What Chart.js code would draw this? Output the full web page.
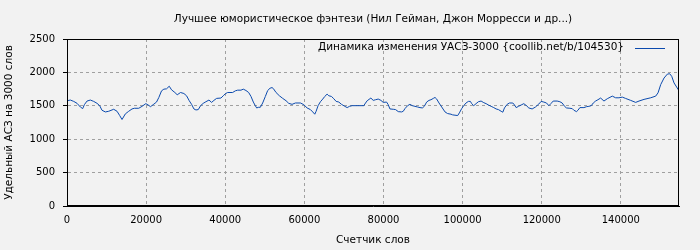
<!DOCTYPE html>
<html>
<head>
<meta charset="utf-8">
<script src="https://cdn.jsdelivr.net/npm/chart.js@4"></script>
<style>
  html, body { margin: 0; padding: 0; background: #f2f2f2; }
  canvas { display: block; }
</style>
</head>
<body>
<canvas id="myChart" width="700" height="250"></canvas>
<script>
var chartTitle = 'Лучшее юмористическое фэнтези (Нил Гейман, Джон Морресси и др...)';
var seriesLabel = 'Динамика изменения УАСЗ-3000 {coollib.net/b/104530}';

// tick labels
var xTicks = [0, 20000, 40000, 60000, 80000, 100000, 120000, 140000];
var yTicks = [0, 500, 1000, 1500, 2000, 2500];

// word counter (x)
var wordCount = [
    0, 850, 1700, 2540, 3380, 3970, 4390, 5060, 5900, 6750,
    7590, 8260, 8850, 9700, 10540, 11380, 11800, 12650, 13320, 13910,
    14750, 15600, 16440, 17030, 18130, 18970, 19920, 20520, 21110, 21780,
    22630, 23220, 23900, 24480, 25160, 25840, 26430, 27270, 27860, 28710,
    29550, 30220, 30900, 31490, 32080, 32590, 33180, 33770, 34440, 35120,
    35880, 36550, 37140, 37820, 38920, 39500, 40010, 40600, 41870, 42550,
    43140, 43980, 44570, 45240, 45920, 46510, 47100, 47600, 47940, 48450,
    48870, 49460, 50140, 50730, 51320, 51830, 52160, 52840, 53680, 54530,
    55370, 56050, 56890, 57740, 59000, 59850, 60690, 61530, 62120, 62630,
    62970, 63470, 64060, 64650, 65160, 65750, 66180, 66850, 67440, 68030,
    68710, 69380, 70230, 70820, 71410, 72080, 73350, 75040, 75290, 75880,
    76810, 77410, 78000, 78670, 79350, 79940, 80780, 81200, 81630, 82470,
    83060, 83740, 84580, 85000, 85430, 86100, 86690, 87280, 87960, 88640,
    89230, 89820, 90320, 90910, 91500, 92010, 92600, 93030, 93450, 94040,
    94720, 95560, 96200, 97070, 97490, 98760, 99180, 99770, 100280, 100870,
    101460, 101970, 102300, 102810, 103400, 103990, 104670, 105350, 105940, 106530,
    107210, 107880, 108470, 109060, 109740, 110160, 110580, 111260, 111850, 112690,
    113120, 113540, 114130, 114800, 115470, 116140, 116730, 117580, 118420, 119270,
    119860, 120530, 121210, 121800, 122390, 122900, 123910, 124580, 125170, 125770,
    126270, 127120, 127710, 128130, 128810, 129150, 129650, 130670, 131340, 131930,
    132520, 133030, 133620, 134210, 134890, 135730, 136570, 137840, 138680, 139520,
    140370, 141210, 142480, 143750, 144590, 145860, 147550, 148810, 149400, 150080,
    150920, 151770, 152360, 152860, 153450, 154700
];

// УАСЗ-3000 values (y)
var uasz = [
    1576, 1586, 1566, 1537, 1482, 1458, 1517, 1571, 1586, 1566,
    1537, 1502, 1433, 1408, 1418, 1438, 1448, 1418, 1354, 1295,
    1379, 1418, 1453, 1463, 1463, 1492, 1532, 1512, 1487, 1517,
    1556, 1625, 1724, 1749, 1754, 1793, 1739, 1699, 1665, 1699,
    1684, 1650, 1576, 1522, 1453, 1438, 1443, 1502, 1537, 1561,
    1586, 1551, 1581, 1611, 1616, 1650, 1680, 1699, 1699, 1724,
    1734, 1734, 1749, 1729, 1699, 1640, 1556, 1502, 1468, 1478,
    1478, 1542, 1640, 1729, 1763, 1773, 1758, 1699, 1650, 1611,
    1576, 1537, 1522, 1542, 1542, 1517, 1468, 1443, 1408, 1374,
    1418, 1502, 1561, 1601, 1640, 1675, 1650, 1640, 1606, 1566,
    1556, 1522, 1492, 1473, 1492, 1502, 1502, 1502, 1527, 1576,
    1616, 1581, 1591, 1601, 1581, 1551, 1556, 1517, 1453, 1448,
    1443, 1413, 1408, 1418, 1458, 1502, 1522, 1502, 1492, 1482,
    1473, 1468, 1492, 1556, 1581, 1591, 1611, 1625, 1601, 1542,
    1482, 1408, 1384, 1374, 1364, 1354, 1394, 1458, 1502, 1542,
    1566, 1566, 1532, 1502, 1532, 1561, 1571, 1547, 1532, 1512,
    1492, 1473, 1453, 1443, 1418, 1404, 1468, 1522, 1542, 1542,
    1512, 1473, 1492, 1512, 1532, 1502, 1468, 1453, 1482, 1527,
    1566, 1556, 1542, 1502, 1537, 1571, 1571, 1561, 1542, 1492,
    1468, 1463, 1458, 1433, 1413, 1433, 1473, 1473, 1487, 1492,
    1502, 1542, 1571, 1591, 1616, 1571, 1606, 1645, 1620, 1620,
    1630, 1610, 1581, 1551, 1571, 1596, 1620, 1645, 1694, 1818,
    1916, 1975, 1980, 1941, 1842, 1725
];

var xMax = 154700;
var lineColor = '#0b4aae';
var fontFamily = "'DejaVu Sans', sans-serif";

// title over the plot area, legend inside it at top right, black frame round it
var decorations = {
    id: 'decorations',
    afterDraw: function (chart) {
        var c = chart.ctx, a = chart.chartArea;
        c.save();
        c.strokeStyle = '#000';
        c.lineWidth = 1;
        c.strokeRect(Math.round(a.left) + 0.5, Math.round(a.top) + 0.5,
            Math.round(a.right - a.left) - 1, Math.round(a.bottom - a.top) - 1);

        c.fillStyle = '#000';
        c.font = '10.5px ' + fontFamily;
        c.textBaseline = 'middle';
        c.textAlign = 'center';
        c.fillText(chartTitle, (a.left + a.right) / 2, 19);

        var ly = a.top + 8.5;
        var lineEnd = a.right - 14;
        c.textAlign = 'right';
        c.fillText(chart.data.datasets[0].label, lineEnd - 41, ly);
        c.strokeStyle = lineColor;
        c.beginPath();
        c.moveTo(lineEnd - 30, Math.round(ly) + 0.5);
        c.lineTo(lineEnd, Math.round(ly) + 0.5);
        c.stroke();
        c.restore();
    }
};

var points = wordCount.map(function (x, i) { return { x: x, y: uasz[i] }; });

function fixedTicks(values) {
    return function (scale) {
        scale.ticks = values.map(function (v) { return { value: v }; });
    };
}

var ctx = document.getElementById('myChart').getContext('2d');
var myChart = new Chart(ctx, {
    type: 'line',
    data: {
        datasets: [{
            label: seriesLabel,
            data: points,
            borderColor: lineColor,
            borderWidth: 1,
            pointRadius: 0,
            fill: false,
            tension: 0
        }]
    },
    options: {
        responsive: false,
        animation: false,
        layout: { padding: { left: 0, right: 21, top: 39, bottom: 0 } },
        plugins: {
            legend: { display: false },
            title: { display: false },
            tooltip: { enabled: false }
        },
        scales: {
            x: {
                type: 'linear',
                min: 0,
                max: xMax,
                afterBuildTicks: fixedTicks(xTicks),
                afterFit: function (scale) { scale.height = 44; },
                ticks: {
                    autoSkip: false,
                    padding: 8,
                    maxRotation: 0,
                    color: '#000',
                    font: { family: fontFamily, size: 10 },
                    callback: function (v) { return String(v); }
                },
                grid: {
                    color: '#a0a0a0',
                    drawTicks: false
                },
                border: { display: true, color: '#000', dash: [3, 3] },
                title: {
                    display: true,
                    text: 'Счетчик слов',
                    color: '#000',
                    font: { family: fontFamily, size: 10.5 },
                    padding: { top: 0, bottom: 3 }
                }
            },
            y: {
                min: 0,
                max: 2500,
                afterBuildTicks: fixedTicks(yTicks),
                afterFit: function (scale) { scale.width = 67; },
                ticks: {
                    padding: 8,
                    color: '#000',
                    font: { family: fontFamily, size: 10 },
                    callback: function (v) { return String(v); }
                },
                grid: {
                    color: '#a0a0a0',
                    tickColor: '#000',
                    tickLength: 4,
                    tickBorderDash: []
                },
                border: { display: true, color: '#000', dash: [3, 3] },
                title: {
                    display: true,
                    text: 'Удельный АСЗ на 3000 слов',
                    color: '#000',
                    font: { family: fontFamily, size: 10.5 },
                    padding: { top: 3, bottom: 0 }
                }
            }
        }
    },
    plugins: [decorations]
});
</script>
</body>
</html>
